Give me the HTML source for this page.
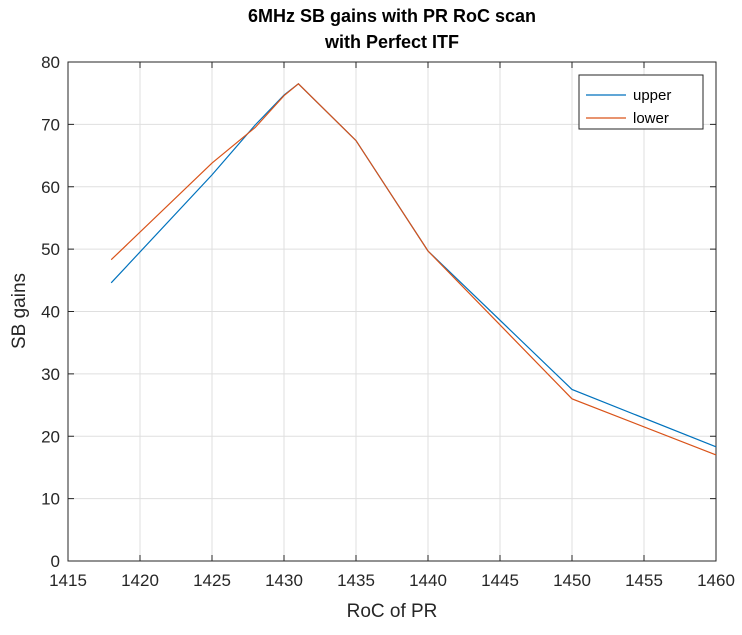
<!DOCTYPE html>
<html><head><meta charset="utf-8"><style>
body{margin:0;background:#fff;font-family:"Liberation Sans",Arial,sans-serif}
svg text{font-family:"Liberation Sans",Arial,sans-serif}
</style></head><body>
<svg id="c" width="742" height="630" xmlns="http://www.w3.org/2000/svg"></svg>
<script>
const xs=[1418,1425,1428,1430,1431,1435,1440,1450,1460];
const upper=[44.6,61.9,69.9,74.7,76.5,67.4,49.7,27.5,18.3];
const lower=[48.3,63.8,69.5,74.6,76.5,67.4,49.7,26.0,17.0];
const xTicks=[1415,1420,1425,1430,1435,1440,1445,1450,1455,1460];
const yTicks=[0,10,20,30,40,50,60,70,80];
const L=68,R=716,T=62,B=561;
const X=v=>L+(v-1415)/45*(R-L);
const Y=v=>B-v/80*(B-T);
const svg=document.getElementById('c');
const NS='http://www.w3.org/2000/svg';
function mk(t,a,txt){const e=document.createElementNS(NS,t);for(const k in a)e.setAttribute(k,a[k]);if(txt!==undefined)e.textContent=txt;svg.appendChild(e);return e;}
let e;
e=mk('rect',{x:L,y:T,width:R-L,height:B-T,fill:'#fff'});


xTicks.forEach(t=>{const x=X(t);
 e=mk('line',{x1:x,y1:T,x2:x,y2:B,stroke:'#dfdfdf','stroke-width':1});
 
 
 mk('line',{x1:x,y1:B,x2:x,y2:B-6,stroke:'#262626'});
 mk('line',{x1:x,y1:T,x2:x,y2:T+6,stroke:'#262626'});
 e=mk('text',{x:x,y:B+25,'text-anchor':'middle','font-size':17,fill:'#262626'},t);
 
 
});
yTicks.forEach(t=>{const y=Y(t);
 e=mk('line',{x1:L,y1:y,x2:R,y2:y,stroke:'#dfdfdf','stroke-width':1});
 
 
 mk('line',{x1:L,y1:y,x2:L+6,y2:y,stroke:'#262626'});
 mk('line',{x1:R,y1:y,x2:R-6,y2:y,stroke:'#262626'});
 e=mk('text',{x:L-8,y:y+6,'text-anchor':'end','font-size':17,fill:'#262626'},t);
 
 
});
e=mk('rect',{x:L,y:T,width:R-L,height:B-T,fill:'none',stroke:'#262626','stroke-width':1});


function line(d,c,n){e=mk('polyline',{points:xs.map((x,i)=>X(x)+','+Y(d[i])).join(' '),fill:'none',stroke:c,'stroke-width':1.2});
 
 }
line(upper,'#0072bd','upper-series');
line(lower,'#d95319','lower-series');
e=mk('text',{x:392,y:22,'text-anchor':'middle','font-size':18,'font-weight':'bold',fill:'#000'},'6MHz SB gains with PR RoC scan');


e=mk('text',{x:392,y:48,'text-anchor':'middle','font-size':18,'font-weight':'bold',fill:'#000'},'with Perfect ITF');


e=mk('text',{x:392,y:617,'text-anchor':'middle','font-size':19,fill:'#262626'},'RoC of PR');


e=mk('text',{x:25,y:311,'text-anchor':'middle','font-size':19,fill:'#262626',transform:'rotate(-90 25 311)'},'SB gains');


e=mk('rect',{x:579,y:75,width:124,height:54,fill:'#fff',stroke:'#262626'});


[['upper','#0072bd',95],['lower','#d95319',118]].forEach(([n,c,y])=>{
 mk('line',{x1:586,y1:y,x2:626,y2:y,stroke:c,'stroke-width':1.2});
 e=mk('text',{x:633,y:y+5,'font-size':15,fill:'#000'},n);
 
 
});
</script>
</body></html>
